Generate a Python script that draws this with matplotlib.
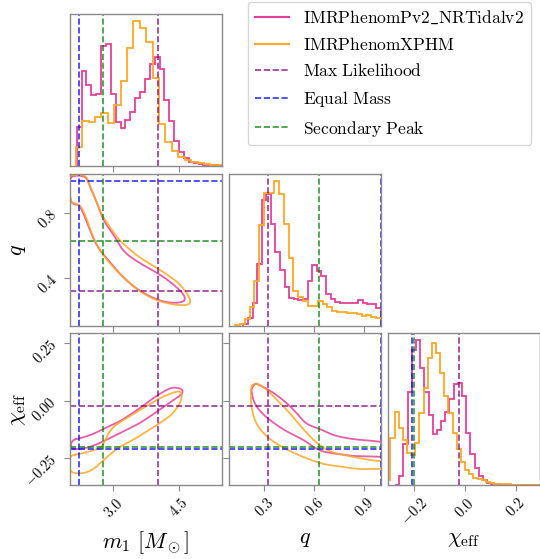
import numpy as np
import matplotlib
matplotlib.use("Agg")
import matplotlib.pyplot as plt
from matplotlib.lines import Line2D

plt.rcParams["mathtext.fontset"] = "cm"
plt.rcParams["font.family"] = "serif"
plt.rcParams["font.serif"] = ["cmr10", "DejaVu Serif"]

PINK = "#e6409a"
ORANGE = "#ffa726"
GRAY = "#8a8a8a"

# ---- 1D histograms (bin heights, each with its own bin range)
m1_pink = [38.7, 95.3, 81.3, 71.3, 72, 119.7, 122, 72, 43.7, 37.7, 46, 53.7, 68, 73.7, 87.5,
           102, 109.3, 97, 66, 44.7, 25.3, 14.5, 8, 4.5, 3, 2, 1.3, 1, 0.7, 0.5]
m1_pink_range = (2.154, 5.523)
m1_orange = [19, 45, 44, 49, 53, 43, 61, 85, 118, 145, 138, 124, 88, 42, 24, 15, 9, 6, 4, 3,
             2, 1.5, 1]
m1_orange_range = (2.131, 5.528)

q_pink = [7, 25, 70, 185, 377, 395, 303, 222, 168, 115, 85, 82, 77, 80, 135, 183, 165, 150,
          95, 80, 72, 68, 70, 70, 68, 77, 68, 67, 65, 53]
q_pink_range = (0.174, 1.0)
q_orange = [2, 7, 20, 57, 135, 302, 397, 397, 432, 393, 305, 203, 103, 87, 75, 60, 60, 75, 67,
            57, 45, 42, 42, 40, 38, 35, 30, 33, 27, 25]
q_orange_range = (0.124, 1.0)

chi_pink = [0.3, 9.3, 41, 92.7, 135, 144.7, 117, 92.7, 70.3, 51.3, 54.7, 63.7, 72.7, 86, 101.3,
            102, 89.3, 52, 31.3, 17, 9.3, 5.3, 2, 1, 0.5, 0.3, 0.2, 0.2, 0.1, 0.1, 0.1, 0.1,
            0.1, 0.1, 0.1]
chi_pink_range = (-0.275, 0.3015)
chi_orange = [5, 46.7, 73.3, 56.7, 45, 31.7, 30.3, 41.7, 72.3, 96.7, 126.7, 142.3, 131.7, 112.3,
              89, 72.3, 51.7, 35.7, 22.7, 15.3, 11.3, 7, 6, 5.3, 2.7, 2, 1.3, 1, 0.7, 0.7, 0.4,
              0.3, 0.2, 0.2, 0.1, 0.1, 0.1]
chi_orange_range = (-0.3097, 0.2948)

# ---- 2D credible contours (one level)
m1q_pink_m1 = [2.015, 2.208, 2.346, 2.40, 2.477, 2.615, 2.769, 2.923, 3.062, 3.192, 3.346, 3.615,
               3.923, 4.231, 4.462, 4.615, 4.654, 4.60, 4.385, 4.077, 3.769, 3.462, 3.154, 2.923,
               2.692, 2.577, 2.462, 2.346, 2.254, 2.208, 2.108, 2.015, 1.97]
m1q_pink_q = [1.027, 1.031, 1.023, 1.006, 0.951, 0.868, 0.755, 0.697, 0.641, 0.579, 0.538, 0.490,
              0.445, 0.393, 0.342, 0.300, 0.270, 0.253, 0.245, 0.259, 0.296, 0.346, 0.424, 0.497,
              0.569, 0.620, 0.693, 0.775, 0.827, 0.852, 0.852, 0.868, 0.961]
m1q_orange_m1 = [1.97, 2.231, 2.369, 2.423, 2.577, 2.731, 2.923, 3.077, 3.269, 3.538, 3.846, 4.231,
                 4.538, 4.731, 4.785, 4.692, 4.462, 4.154, 3.846, 3.538, 3.231, 3.0, 2.769, 2.615,
                 2.5, 2.40, 2.308, 2.231, 2.115, 2.015, 1.97]
m1q_orange_q = [1.033, 1.035, 1.027, 0.992, 0.889, 0.786, 0.713, 0.651, 0.600, 0.538, 0.486, 0.424,
                0.362, 0.290, 0.249, 0.232, 0.234, 0.249, 0.280, 0.331, 0.404, 0.466, 0.538, 0.606,
                0.672, 0.755, 0.812, 0.847, 0.858, 0.868, 0.982]

m1chi_pink_m1 = [2.062, 2.231, 2.538, 2.769, 2.923, 3.077, 3.308, 3.615, 3.923, 4.231, 4.385, 4.577,
                 4.60, 4.538, 4.308, 4.077, 3.846, 3.615, 3.385, 3.154, 2.923, 2.692, 2.462, 2.231,
                 2.038, 2.015]
m1chi_pink_chi = [-0.170, -0.164, -0.145, -0.123, -0.109, -0.097, -0.071, -0.032, 0.012, 0.048,
                  0.058, 0.051, 0.036, 0.022, -0.007, -0.039, -0.068, -0.097, -0.119, -0.141,
                  -0.162, -0.184, -0.201, -0.210, -0.210, -0.191]
m1chi_orange_m1 = [1.97, 2.308, 2.654, 2.769, 2.862, 3.0, 3.308, 3.692, 4.077, 4.385, 4.538, 4.585,
                   4.538, 4.346, 4.077, 3.769, 3.462, 3.231, 3.0, 2.769, 2.577, 2.385, 2.192,
                   2.015, 1.97]
m1chi_orange_chi = [-0.239, -0.228, -0.210, -0.191, -0.148, -0.112, -0.075, -0.032, 0.012, 0.036,
                    0.041, 0.026, -0.013, -0.061, -0.097, -0.133, -0.170, -0.191, -0.220, -0.259,
                    -0.293, -0.312, -0.317, -0.310, -0.28]

qchi_pink_q = [0.224, 0.244, 0.264, 0.324, 0.384, 0.444, 0.494, 0.544, 0.594, 0.644, 0.704, 0.784,
               0.864, 0.944, 1.03, 1.03, 0.944, 0.864, 0.784, 0.704, 0.644, 0.594, 0.544, 0.484,
               0.424, 0.364, 0.304, 0.258, 0.234, 0.224]
qchi_pink_chi = [0.055, 0.074, 0.070, 0.048, 0.019, -0.017, -0.054, -0.097, -0.114, -0.126, -0.148,
                 -0.162, -0.170, -0.174, -0.182, -0.245, -0.242, -0.242, -0.236, -0.228, -0.220,
                 -0.201, -0.174, -0.152, -0.130, -0.101, -0.068, -0.032, 0.001, 0.033]
qchi_orange_q = [0.22, 0.24, 0.264, 0.314, 0.374, 0.434, 0.494, 0.554, 0.624, 0.704, 0.784, 0.864,
                 0.944, 1.03, 1.03, 0.944, 0.864, 0.764, 0.664, 0.604, 0.524, 0.444, 0.364, 0.294,
                 0.248, 0.224, 0.218]
qchi_orange_chi = [0.059, 0.074, 0.072, 0.048, 0.004, -0.039, -0.090, -0.141, -0.191, -0.225,
                   -0.236, -0.249, -0.259, -0.265, -0.295, -0.297, -0.297, -0.287, -0.277, -0.264,
                   -0.242, -0.216, -0.184, -0.143, -0.097, -0.039, 0.019]

# ---- reference points
max_like = {"m1": 4.02, "q": 0.32, "chi": -0.022}
equal_mass = {"m1": 2.21, "q": 1.0, "chi": -0.21}
secondary = {"m1": 2.77, "q": 0.63, "chi": -0.20}

labels = [r"$\mathrm{IMRPhenomPv2\_NRTidalv2}$", r"$\mathrm{IMRPhenomXPHM}$",
          r"$\mathrm{Max\ Likelihood}$", r"$\mathrm{Equal\ Mass}$",
          r"$\mathrm{Secondary\ Peak}$"]

# axis limits / ticks
m1_lim = (2.0, 5.5)
q_col_lim = (0.088, 1.0)
q_row_lim = (0.105, 1.04)
chi_col_lim = (-0.303, 0.296)
chi_row_lim = (-0.366, 0.293)
m1_ticks = [3.0, 4.5]
q_col_ticks = [0.3, 0.6, 0.9]
q_row_ticks = [0.4, 0.8]
chi_col_ticks = [-0.2, 0.0, 0.2]
chi_row_ticks = [-0.25, 0.0, 0.25]


def chaikin(x, y, n=3):
    pts = np.column_stack([x, y]).astype(float)
    for _ in range(n):
        nxt = np.roll(pts, -1, axis=0)
        new = np.empty((2 * len(pts), 2))
        new[0::2] = 0.75 * pts + 0.25 * nxt
        new[1::2] = 0.25 * pts + 0.75 * nxt
        pts = new
    pts = np.vstack([pts, pts[:1]])
    return pts[:, 0], pts[:, 1]


W, H = 540, 559
fig = plt.figure(figsize=(W / 100, H / 100), dpi=100)

col_left = [70, 229, 388]
row_top = [14, 174, 333]
size = 152


def make_ax(r, c):
    return fig.add_axes([col_left[c] / W, 1 - (row_top[r] + size) / H, size / W, size / H])


def style(ax):
    for s in ax.spines.values():
        s.set_color(GRAY)
        s.set_linewidth(1.0)
    ax.tick_params(direction="out", length=4, width=0.8, color=GRAY, labelsize=10.5)


def fmt(vals, nd):
    return [("$%." + str(nd) + "f$") % v for v in vals]


refs = [(max_like, "purple"), (equal_mass, "blue"), (secondary, "green")]
ref_kw = dict(ls="--", lw=1.2, alpha=0.8)
hist_kw = dict(lw=1.3, baseline=0)
cont_kw = dict(lw=1.3, alpha=0.85)

# --- diagonal
ax00 = make_ax(0, 0)
for h, rg, col in [(m1_pink, m1_pink_range, PINK), (m1_orange, m1_orange_range, ORANGE)]:
    ax00.stairs(h, np.linspace(rg[0], rg[1], len(h) + 1), color=col, **hist_kw)
for d, col in refs:
    ax00.axvline(d["m1"], color=col, **ref_kw)
ax00.set_xlim(m1_lim)
ax00.set_ylim(0, 1.05 * max(max(m1_pink), max(m1_orange)))
ax00.set_xticks(m1_ticks, labels=[])
ax00.set_yticks([])

ax11 = make_ax(1, 1)
for h, rg, col in [(q_pink, q_pink_range, PINK), (q_orange, q_orange_range, ORANGE)]:
    ax11.stairs(h, np.linspace(rg[0], rg[1], len(h) + 1), color=col, **hist_kw)
for d, col in refs:
    ax11.axvline(d["q"], color=col, **ref_kw)
ax11.set_xlim(q_col_lim)
ax11.set_ylim(0, 1.05 * max(max(q_pink), max(q_orange)))
ax11.set_xticks(q_col_ticks, labels=[])
ax11.set_yticks([])

ax22 = make_ax(2, 2)
for h, rg, col in [(chi_pink, chi_pink_range, PINK), (chi_orange, chi_orange_range, ORANGE)]:
    ax22.stairs(h, np.linspace(rg[0], rg[1], len(h) + 1), color=col, **hist_kw)
for d, col in refs:
    ax22.axvline(d["chi"], color=col, **ref_kw)
ax22.set_xlim(chi_col_lim)
ax22.set_ylim(0, 1.05 * max(max(chi_pink), max(chi_orange)))
ax22.set_xticks(chi_col_ticks, labels=fmt(chi_col_ticks, 1))
ax22.set_yticks([])

# --- 2D panels
ax10 = make_ax(1, 0)
ax10.plot(*chaikin(m1q_pink_m1, m1q_pink_q), color=PINK, **cont_kw)
ax10.plot(*chaikin(m1q_orange_m1, m1q_orange_q), color=ORANGE, **cont_kw)
for d, col in refs:
    ax10.axvline(d["m1"], color=col, **ref_kw)
    ax10.axhline(d["q"], color=col, **ref_kw)
ax10.set_xlim(m1_lim)
ax10.set_ylim(q_row_lim)
ax10.set_xticks(m1_ticks, labels=[])
ax10.set_yticks(q_row_ticks, labels=fmt(q_row_ticks, 1))

ax20 = make_ax(2, 0)
ax20.plot(*chaikin(m1chi_pink_m1, m1chi_pink_chi), color=PINK, **cont_kw)
ax20.plot(*chaikin(m1chi_orange_m1, m1chi_orange_chi), color=ORANGE, **cont_kw)
for d, col in refs:
    ax20.axvline(d["m1"], color=col, **ref_kw)
    ax20.axhline(d["chi"], color=col, **ref_kw)
ax20.set_xlim(m1_lim)
ax20.set_ylim(chi_row_lim)
ax20.set_xticks(m1_ticks, labels=fmt(m1_ticks, 1))
ax20.set_yticks(chi_row_ticks, labels=fmt(chi_row_ticks, 2))

ax21 = make_ax(2, 1)
ax21.plot(*chaikin(qchi_pink_q, qchi_pink_chi), color=PINK, **cont_kw)
ax21.plot(*chaikin(qchi_orange_q, qchi_orange_chi), color=ORANGE, **cont_kw)
for d, col in refs:
    ax21.axvline(d["q"], color=col, **ref_kw)
    ax21.axhline(d["chi"], color=col, **ref_kw)
ax21.set_xlim(q_col_lim)
ax21.set_ylim(chi_row_lim)
ax21.set_xticks(q_col_ticks, labels=fmt(q_col_ticks, 1))
ax21.set_yticks(chi_row_ticks, labels=[])

for ax in [ax00, ax11, ax22, ax10, ax20, ax21]:
    style(ax)
    for lab in ax.get_xticklabels():
        lab.set_rotation(45)
    for lab in ax.get_yticklabels():
        lab.set_rotation(45)

ax20.set_xlabel(r"$m_1\ [M_\odot]$", fontsize=16)
ax21.set_xlabel(r"$q$", fontsize=16)
ax22.set_xlabel(r"$\chi_{\mathrm{eff}}$", fontsize=16)
ax10.set_ylabel(r"$q$", fontsize=16)
ax20.set_ylabel(r"$\chi_{\mathrm{eff}}$", fontsize=16)
for ax in [ax20, ax21, ax22]:
    ax.xaxis.set_label_coords(0.5, -0.29)
for ax in [ax10, ax20]:
    ax.yaxis.set_label_coords(-0.275, 0.5)

handles = [Line2D([], [], color=PINK, lw=1.5),
           Line2D([], [], color=ORANGE, lw=1.5),
           Line2D([], [], color="purple", ls="--", lw=1.2, alpha=0.8),
           Line2D([], [], color="blue", ls="--", lw=1.2, alpha=0.8),
           Line2D([], [], color="green", ls="--", lw=1.2, alpha=0.8)]
fig.legend(handles, labels, loc="upper right", bbox_to_anchor=(531 / W, 1 - 2 / H),
           fontsize=12.5, labelspacing=0.55, frameon=True, fancybox=True, edgecolor="0.8",
           borderaxespad=0)

fig.savefig("out.png", dpi=100)
